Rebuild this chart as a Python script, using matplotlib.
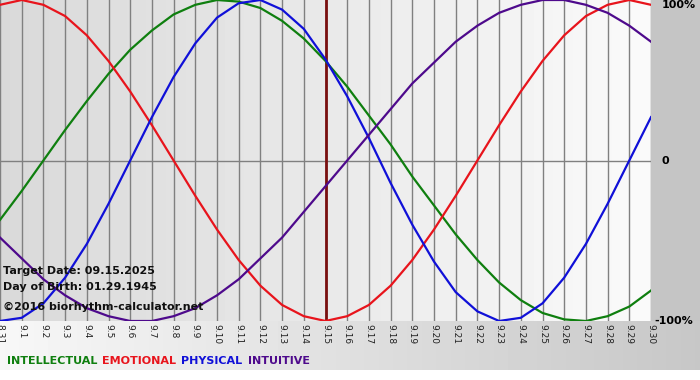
#biorhythm chart: target 09.15.2025, birth 01.29.1945

import matplotlib.pyplot as plt
import numpy as np

#x axis labels, one per day
days = ['8.31'] + ['9.%d' % i for i in range(1, 31)]
target_day = '9.15'

#values in % / 100
physical = [-1.00, -0.98, -0.89, -0.73, -0.52, -0.27, 0.00, 0.27, 0.52, 0.73, 0.89,
            0.98, 1.00, 0.94, 0.82, 0.63, 0.40, 0.14, -0.14, -0.40, -0.63, -0.82,
            -0.94, -1.00, -0.98, -0.89, -0.73, -0.52, -0.27, 0.00, 0.27]
emotional = [0.97, 1.00, 0.97, 0.90, 0.78, 0.62, 0.43, 0.22, 0.00, -0.22, -0.43,
             -0.62, -0.78, -0.90, -0.97, -1.00, -0.97, -0.90, -0.78, -0.62, -0.43, -0.22,
             0.00, 0.22, 0.43, 0.62, 0.78, 0.90, 0.97, 1.00, 0.97]
intellectual = [-0.37, -0.19, 0.00, 0.19, 0.37, 0.54, 0.69, 0.81, 0.91, 0.97, 1.00,
                0.99, 0.95, 0.87, 0.76, 0.62, 0.46, 0.28, 0.10, -0.10, -0.28, -0.46,
                -0.62, -0.76, -0.87, -0.95, -0.99, -1.00, -0.97, -0.91, -0.81]
intuitive = [-0.48, -0.61, -0.74, -0.84, -0.92, -0.97, -1.00, -1.00, -0.97, -0.92, -0.84,
             -0.74, -0.61, -0.48, -0.32, -0.16, 0.00, 0.16, 0.32, 0.48, 0.61, 0.74,
             0.84, 0.92, 0.97, 1.00, 1.00, 0.97, 0.92, 0.84, 0.74]

#colors
c_green = '#0f7f0f'
c_red = '#e8141c'
c_blue = '#1010d8'
c_purple = '#4e0a8c'

W, H = 700, 380
fig = plt.figure(figsize=(W / 100, H / 100), dpi=100)

#figure background: gray margin, gradient strip under plot, white at bottom
bg = fig.add_axes([0, 0, 1, 1])
bg.set_axis_off()
img = np.full((H, W), 0.77)
grad = np.linspace(0.97, 0.78, W)
img[321:370, :] = grad
img[370:, :] = 1.0
bg.imshow(img, cmap='gray', vmin=0, vmax=1, aspect='auto', extent=[0, 1, 0, 1], origin='upper')
bg.set_xlim(0, 1)
bg.set_ylim(0, 1)

plot_right = 651
plot_bottom = 321
ax = fig.add_axes([0, 1 - plot_bottom / H, plot_right / W, plot_bottom / H])
x = np.arange(len(days))

#plot background gradient, darker on the left
pgrad = np.linspace(0.85, 0.98, 200)[None, :]
ax.imshow(pgrad, cmap='gray', vmin=0, vmax=1, aspect='auto',
          extent=[x[0], x[-1], -1, 1], zorder=0)

for xi in x:
    ax.axvline(xi, color='#808080', lw=1, zorder=1)
ax.axhline(0, color='#808080', lw=1, zorder=1)

ax.axvline(days.index(target_day), color='#7a1010', lw=2, zorder=2)

ax.plot(x, intellectual, color=c_green, lw=1.6, zorder=3)
ax.plot(x, emotional, color=c_red, lw=1.6, zorder=3)
ax.plot(x, physical, color=c_blue, lw=1.6, zorder=3)
ax.plot(x, intuitive, color=c_purple, lw=1.6, zorder=3)

ax.set_xlim(x[0], x[-1])
ax.set_ylim(-1.0, 1.0)
ax.set_xticks([])
ax.set_yticks([])
for s in ax.spines.values():
    s.set_visible(False)

#day labels, rotated (first one sits on the edge, cut as in the original)
for xi, d in zip(x, days):
    ax.text(xi, -1.02, d, rotation=-90, ha='center', va='top', fontsize=6.5,
            color='#202020', clip_on=False)

#percent labels on the right
rx = x[-1] + 0.15
ax.text(rx + 0.35, 1.0, '100%', ha='left', va='top', fontsize=8, fontweight='bold', clip_on=False)
ax.text(rx + 0.35, 0.0, '0', ha='left', va='center', fontsize=8, fontweight='bold', clip_on=False)
ax.text(rx, -1.0, '-100%', ha='left', va='center', fontsize=8, fontweight='bold', clip_on=False)

#info texts
fig.text(3 / W, 1 - 271 / H, 'Target Date: 09.15.2025', fontsize=8, fontweight='bold', va='center', color='#101010')
fig.text(3 / W, 1 - 287 / H, 'Day of Birth: 01.29.1945', fontsize=8, fontweight='bold', va='center', color='#101010')
fig.text(3 / W, 1 - 307 / H, '\u00a92016 biorhythm-calculator.net', fontsize=8, fontweight='bold', va='center', color='#101010')

#legend as colored words
legend = [('INTELLECTUAL', c_green), ('EMOTIONAL', c_red), ('PHYSICAL', c_blue), ('INTUITIVE', c_purple)]
renderer = fig.canvas.get_renderer()
lx = 7 / W
for word, col in legend:
    t = fig.text(lx, 1 - 361 / H, word, fontsize=8, fontweight='bold', color=col, va='center')
    bb = t.get_window_extent(renderer=renderer)
    lx += (bb.width + 5) / W

fig.savefig('out.png', dpi=100)
